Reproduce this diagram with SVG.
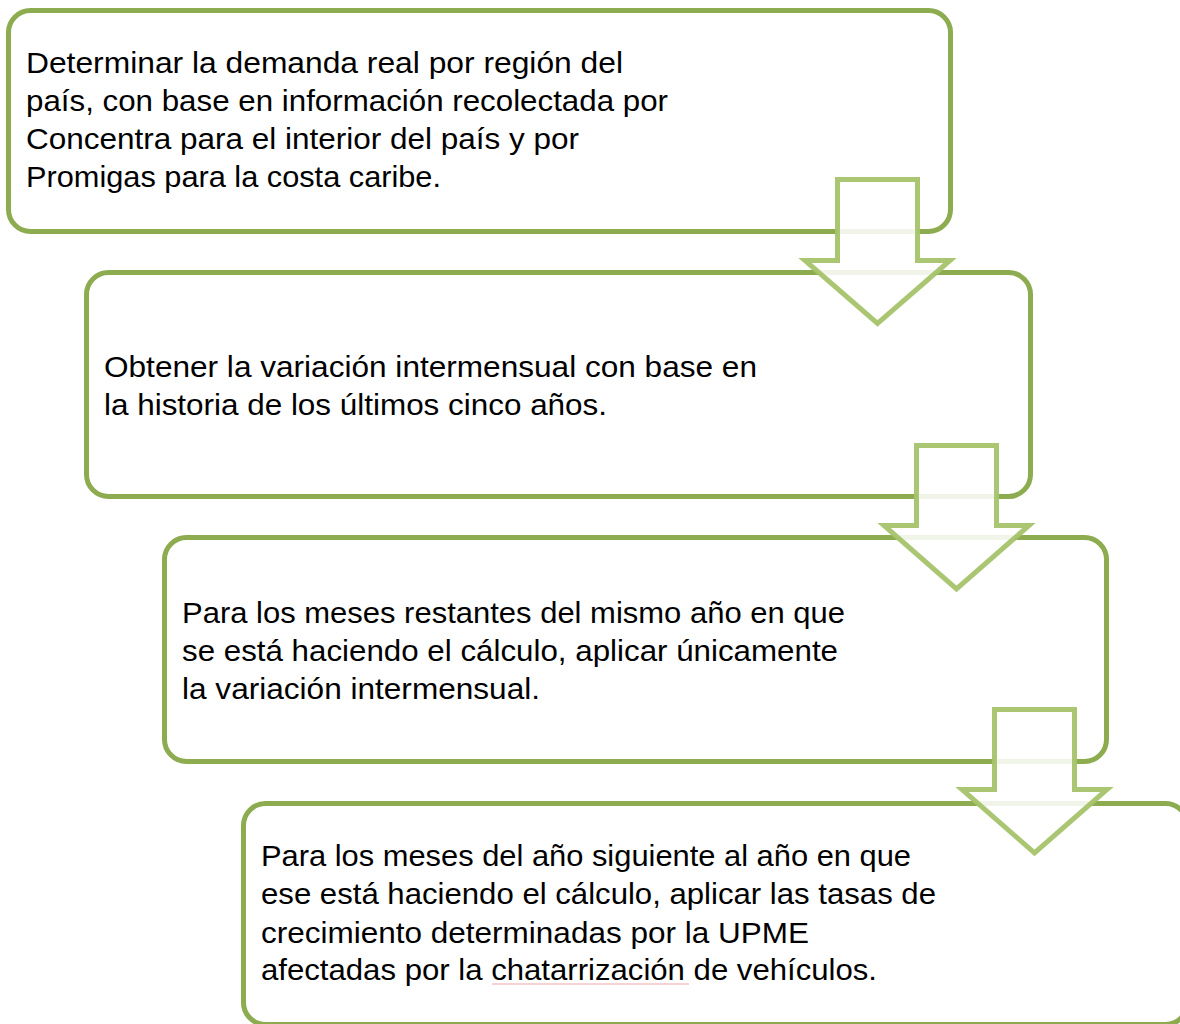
<svg xmlns="http://www.w3.org/2000/svg" width="1180" height="1024" viewBox="0 0 1180 1024">
<style>
.box{fill:#ffffff;stroke:#8DAB4F;stroke-width:5}
.arrow{fill:#ffffff;fill-opacity:0.88;stroke:#A5C36A;stroke-width:5;stroke-opacity:0.95;stroke-linejoin:miter;stroke-miterlimit:10}
.t{font-family:"Liberation Sans",Arial,sans-serif;font-size:30px;fill:#000000}
</style>
<rect width="1180" height="1024" fill="#ffffff"/>
<g id="node1">
<rect class="box" x="8.5" y="10.5" width="942" height="221" rx="22"/>
<text class="t" x="26" y="73" textLength="597" lengthAdjust="spacingAndGlyphs">Determinar la demanda real por región del</text>
<text class="t" x="26" y="111" textLength="642" lengthAdjust="spacingAndGlyphs">país, con base en información recolectada por</text>
<text class="t" x="26" y="149" textLength="553" lengthAdjust="spacingAndGlyphs">Concentra para el interior del país y por</text>
<text class="t" x="26" y="187" textLength="415" lengthAdjust="spacingAndGlyphs">Promigas para la costa caribe.</text>
</g>
<g id="node2">
<rect class="box" x="86.5" y="272.5" width="944" height="224" rx="22"/>
<text class="t" x="104" y="377" textLength="653" lengthAdjust="spacingAndGlyphs">Obtener la variación intermensual con base en</text>
<text class="t" x="104" y="415" textLength="503" lengthAdjust="spacingAndGlyphs">la historia de los últimos cinco años.</text>
</g>
<g id="node3">
<rect class="box" x="164.5" y="537.5" width="942" height="224" rx="22"/>
<text class="t" x="182" y="623" textLength="663" lengthAdjust="spacingAndGlyphs">Para los meses restantes del mismo año en que</text>
<text class="t" x="182" y="661" textLength="656" lengthAdjust="spacingAndGlyphs">se está haciendo el cálculo, aplicar únicamente</text>
<text class="t" x="182" y="699" textLength="358" lengthAdjust="spacingAndGlyphs">la variación intermensual.</text>
</g>
<g id="node4">
<rect class="box" x="243.5" y="803.5" width="944" height="221" rx="22"/>
<text class="t" x="261" y="866" textLength="650" lengthAdjust="spacingAndGlyphs">Para los meses del año siguiente al año en que</text>
<text class="t" x="261" y="904" textLength="675" lengthAdjust="spacingAndGlyphs">ese está haciendo el cálculo, aplicar las tasas de</text>
<text class="t" x="261" y="943" textLength="548" lengthAdjust="spacingAndGlyphs">crecimiento determinadas por la UPME</text>
<text class="t" x="261" y="980" textLength="616" lengthAdjust="spacingAndGlyphs">afectadas por la chatarrización de vehículos.</text>
<line x1="492" y1="984" x2="689" y2="984" stroke="#F2A3AC" stroke-width="1.2"/>
</g>
<g id="connectors">
<path class="arrow" d="M837.5,179.5 H917.5 V260.5 H950 L877.5,323.5 L805,260.5 H837.5 Z"/>
<path class="arrow" d="M916.5,445.5 H996.5 V525.5 H1029 L956.5,589 L884,525.5 H916.5 Z"/>
<path class="arrow" d="M994.5,709.5 H1074.5 V789.5 H1107 L1034.5,853 L962,789.5 H994.5 Z"/>
</g>
</svg>
